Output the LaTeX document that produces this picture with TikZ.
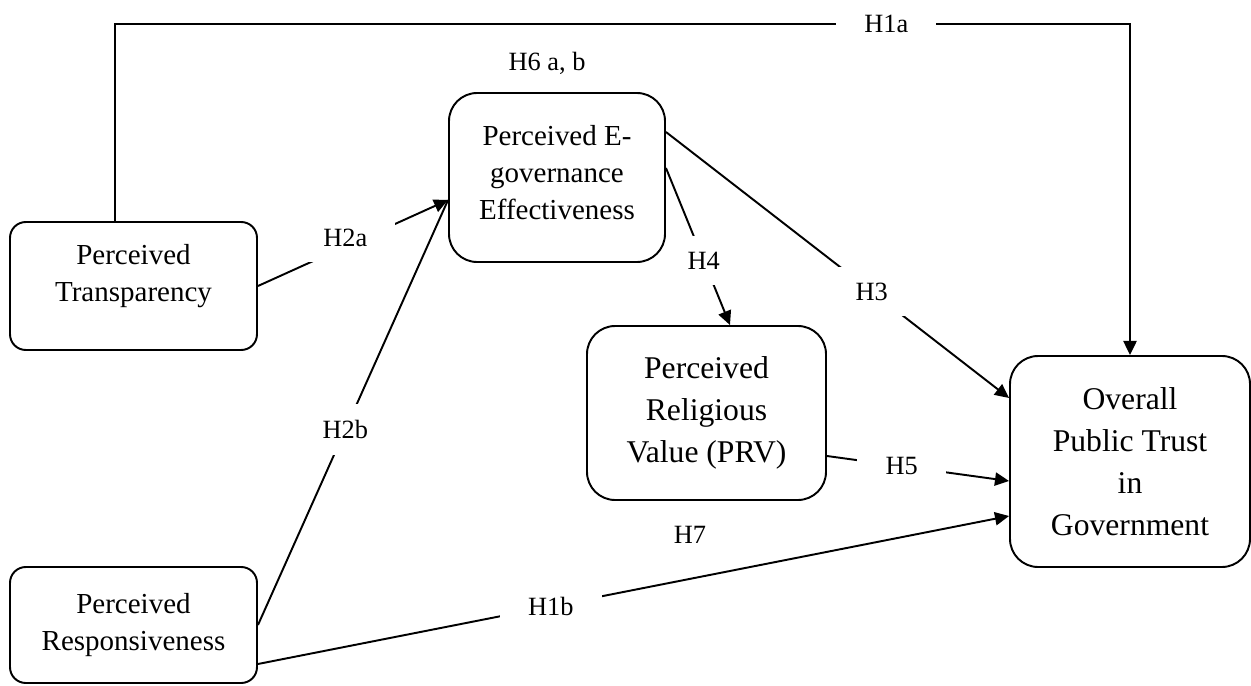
\documentclass[tikz,border=0pt]{standalone}
\usepackage{fontspec}
\setmainfont{Liberation Serif}
\usetikzlibrary{arrows.meta, calc}

\begin{document}
\begin{tikzpicture}[scale = 1,
        construct/.style = {draw, line width = 1.1pt, align = center, inner sep = 0pt},
        smallbox/.style = {construct, rounded corners = 9pt, font = \fontsize{16.5}{21}\selectfont},
        bigbox/.style = {construct, rounded corners = 16pt, font = \fontsize{18}{24}\selectfont},
        link/.style = {line width = 1.1pt, -{Triangle[length = 8pt, width = 7.5pt]}},
        hyp/.style = {fill = white, inner xsep = 16pt, inner ysep = 9pt, font = \fontsize{15}{18}\selectfont}
    ]
        \useasboundingbox (0, 0) rectangle (25.02, 13.70);

        % constructs
        \node[smallbox, text depth = 15pt, minimum width = 4.94cm, minimum height = 2.56cm] (trans) at (2.67, 7.98) {Perceived\\Transparency};
        \node[smallbox, minimum width = 4.94cm, minimum height = 2.32cm] (resp) at (2.67, 1.20) {Perceived\\Responsiveness};
        \node[bigbox, font = \fontsize{16.5}{21}\selectfont, text depth = 6pt, minimum width = 4.32cm, minimum height = 3.38cm] (egov) at (11.14, 10.15) {Perceived E-\\governance\\Effectiveness};
        \node[bigbox, minimum width = 4.78cm, minimum height = 3.48cm] (prv) at (14.13, 5.44) {Perceived\\Religious\\Value (PRV)};
        \node[bigbox, minimum width = 4.80cm, minimum height = 4.22cm] (trust) at (22.60, 4.47) {Overall\\Public Trust\\in\\Government};

        % hypotheses
        \coordinate (tip) at ($(egov.west)+(0, -0.45)$);
        \draw[link] ($(trans.north)+(-0.37, 0)$) |- node[hyp, pos = 0.88] {H1a} ($(trust.north)+(0, 6.62)$) -- (trust.north);
        \draw[link] (trans.east) -- node[hyp, pos = 0.46, yshift = 5pt] {H2a} (tip);
        \draw[line width = 1.1pt] (resp.east) -- node[hyp, pos = 0.46] {H2b} (tip);
        \draw[link] ($(egov.east)+(0, 0.91)$) -- node[hyp, pos = 0.60] {H3} ($(trust.west)+(0, 1.27)$);
        \draw[link] ($(egov.east)+(0, 0.19)$) -- node[hyp, inner xsep = 8pt, pos = 0.59] {H4} ($(prv.north)+(0.47, 0)$);
        \draw[link] ($(prv.east)+(0, -0.86)$) -- node[hyp, pos = 0.41] {H5} ($(trust.west)+(0, -0.39)$);
        \draw[link] ($(resp.east)+(0, -0.78)$) -- node[hyp, pos = 0.39] {H1b} ($(trust.west)+(0, -1.09)$);

        % mediation labels
        \node[hyp, fill = none] (h6) at (10.94, 12.44) {H6 a, b};
        \node[hyp, fill = none] (h7) at (13.80, 3.00) {H7};
    \end{tikzpicture}
\end{document}
